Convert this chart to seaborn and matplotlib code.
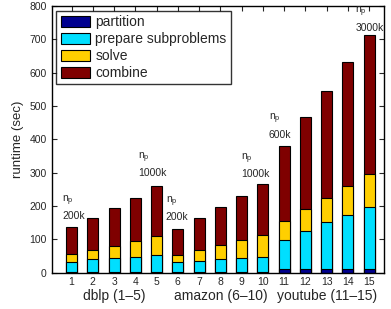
import numpy as np
import pandas as pd
import seaborn as sns
import matplotlib.pyplot as plt
from matplotlib.patches import Patch
import matplotlib.transforms as mtransforms

# stacked runtime per run (sec)
runs = [str(i) for i in range(1, 16)]
partition = [1, 1, 1, 1, 1, 1, 1, 1, 1, 1, 12, 12, 12, 12, 12]
prepare = [31, 39, 43, 47, 53, 30, 34, 39, 43, 47, 87, 113, 139, 161, 184]
solve = [24, 29, 36, 46, 55, 23, 33, 43, 53, 65, 55, 65, 74, 88, 100]
combine = [80, 96, 114, 130, 150, 77, 97, 114, 132, 154, 226, 276, 319, 370, 417]

groups = ['dblp (1\u20135)', 'amazon (6\u201310)', 'youtube (11\u201315)']
group_center = [3, 8, 13]

ann_run = [1, 5, 6, 10, 11, 15]
ann_text = ['200k', '1000k', '200k', '1000k', '600k', '3000k']
ann_y = [169, 298, 167, 295, 414, 735]
ann_left = [0.56, 4.13, 5.44, 8.96, 10.28, 14.36]

parts = ['partition', 'prepare subproblems', 'solve', 'combine']
colors = ['#00008f', '#00dfff', '#ffcf00', '#7f0000']

df = pd.DataFrame({'run': runs, 'partition': partition, 'prepare': prepare,
                   'solve': solve, 'combine': combine})
df['c1'] = df['partition']
df['c2'] = df['c1'] + df['prepare']
df['c3'] = df['c2'] + df['solve']
df['c4'] = df['c3'] + df['combine']

sns.set_style('white')
plt.rcParams['font.family'] = ['Liberation Sans', 'DejaVu Sans']

fig = plt.figure(figsize=(3.91, 3.09), dpi=100)
ax = fig.add_axes([0.132, 0.118, 0.850, 0.863])

# draw cumulative totals from the top down so they overlay into a stack
for col, c in zip(['c4', 'c3', 'c2', 'c1'], colors[::-1]):
    sns.barplot(data=df, x='run', y=col, color=c, saturation=1, width=0.52,
                edgecolor='black', linewidth=0.8, ax=ax)

ax.set_xlim(-0.94, 14.7)
ax.set_ylim(0, 800)
ax.set_yticks(range(0, 801, 100))
ax.set_xlabel('')
ax.set_ylabel('runtime (sec)', fontsize=9.5, labelpad=4)
ax.tick_params(direction='in', length=3.5, width=0.8, labelsize=7.5,
               top=True, right=True, bottom=True, left=True)
ax.tick_params(axis='x', pad=3)
for s in ax.spines.values():
    s.set_linewidth(1)
    s.set_color('black')

trans = mtransforms.blended_transform_factory(ax.transData, ax.transAxes)
for g, xc in zip(groups, group_center):
    ax.text(xc - 1, -0.088, g, transform=trans, ha='center', va='center', fontsize=10)

for r, t, y, xl in zip(ann_run, ann_text, ann_y, ann_left):
    ax.text(xl - 1, y, t, ha='left', va='center', fontsize=7.5)
    ax.annotate(r'$\mathregular{n_p}$', xy=(xl - 1, y), xytext=(0, 11),
                textcoords='offset points', ha='left', va='center', fontsize=7.5)

handles = [Patch(facecolor=c, edgecolor='black', linewidth=0.8) for c in colors]
leg = ax.legend(handles, parts, loc='upper left', fontsize=10, frameon=True,
                fancybox=False, handlelength=2.1, handleheight=0.85,
                labelspacing=0.22, handletextpad=0.4, borderpad=0.3,
                borderaxespad=0.35)
leg.get_frame().set_edgecolor('black')
leg.get_frame().set_linewidth(1)

fig.savefig('out.png', dpi=100)
